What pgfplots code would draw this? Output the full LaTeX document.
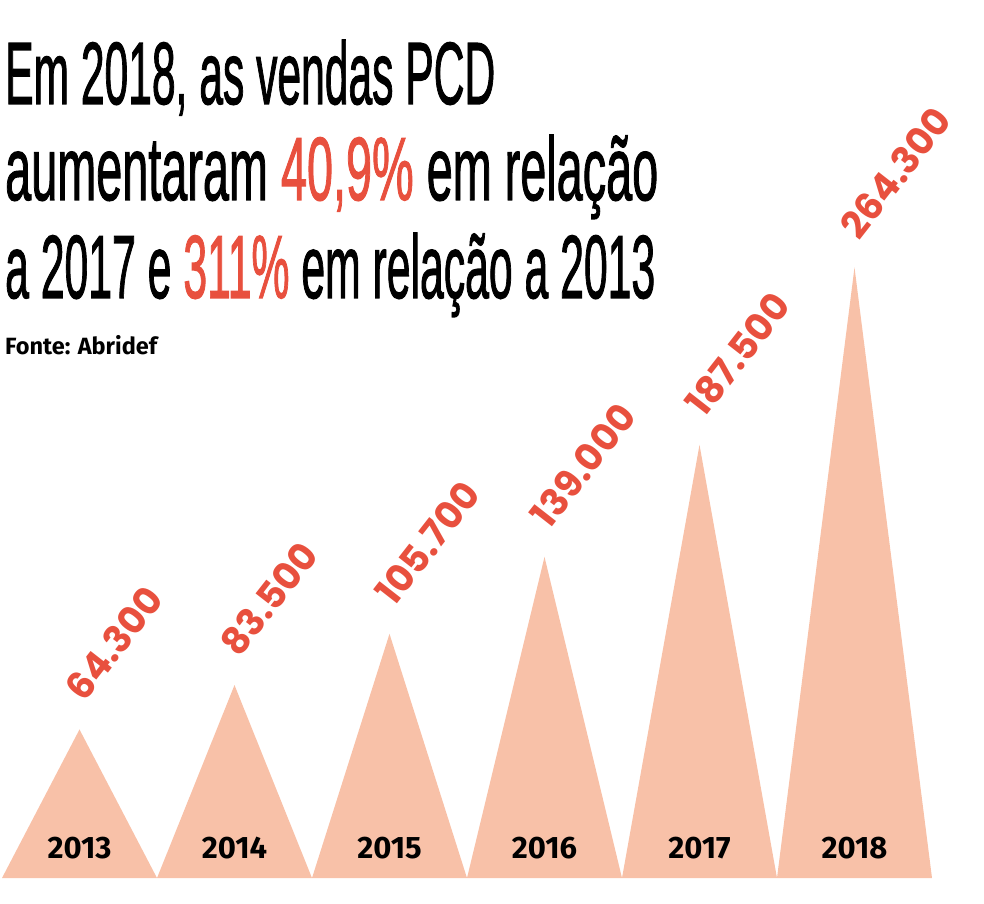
\documentclass[border=0pt]{standalone}
\usepackage{pgfplots}
\pgfplotsset{compat=1.18}
\usepackage{fontspec}
\setmainfont{Fira Sans}
\newfontfamily\titlefont[FakeBold=1.6]{Liberation Sans}
\newfontfamily\valfont{Poppins}
\definecolor{peak}{RGB}{248,193,168}
\definecolor{accent}{RGB}{232,80,62}
\begin{document}
\begin{tikzpicture}
\path[use as bounding box] (0,0) rectangle (984pt,903pt);
\node[anchor=base west, inner sep=0pt] at (5pt,799pt) {\resizebox{490pt}{64pt}{\titlefont Em 2018, as vendas PCD}};
\node[anchor=base west, inner sep=0pt] at (5pt,703pt) {\resizebox{653pt}{65pt}{\titlefont aumentaram \textcolor{accent}{40,9\%} em relação}};
\node[anchor=base west, inner sep=0pt] at (5pt,605pt) {\resizebox{650pt}{65pt}{\titlefont a 2017 e \textcolor{accent}{311\%} em relação a 2013}};
\node[anchor=base west, inner sep=0pt] at (5pt,548pt) {\resizebox{152pt}{!}{\fontsize{24}{24}\selectfont\bfseries Fonte: Abridef}};
\begin{axis}[at={(2pt,25pt)}, anchor=south west, scale only axis,
  width=930pt, height=693pt, xmin=0, xmax=6, ymin=0, ymax=300000,
  axis line style={draw=none}, major tick length=0pt, ytick=\empty,
  axis on top,
  xtick={0.5,1.5,2.5,3.5,4.5,5.5},
  xticklabels={2013,2014,2015,2016,2017,2018},
  xticklabel style={anchor=base, yshift=20pt, font=\fontsize{31}{31}\selectfont\bfseries},
  clip=false]
\addplot[fill=peak, draw=none] coordinates {(0,0)(0.5,64300)(1,0)(1.5,83500)(2,0)(2.5,105700)(3,0)(3.5,139000)(4,0)(4.5,187500)(5,0)(5.5,264300)(6,0)} \closedcycle;
\addplot[draw=none, mark=none, nodes near coords, point meta=explicit symbolic,
  nodes near coords style={anchor=base west, inner sep=0pt, xshift=5pt, yshift=26pt, rotate=52, font=\valfont\fontsize{37.5}{37.5}\selectfont\bfseries, text=accent}]
  coordinates {(0.5,64300)[64.300] (1.5,83500)[83.500] (2.5,105700)[105.700] (3.5,139000)[139.000] (4.5,187500)[187.500] (5.5,264300)[264.300]};
\end{axis}
\end{tikzpicture}
\end{document}
